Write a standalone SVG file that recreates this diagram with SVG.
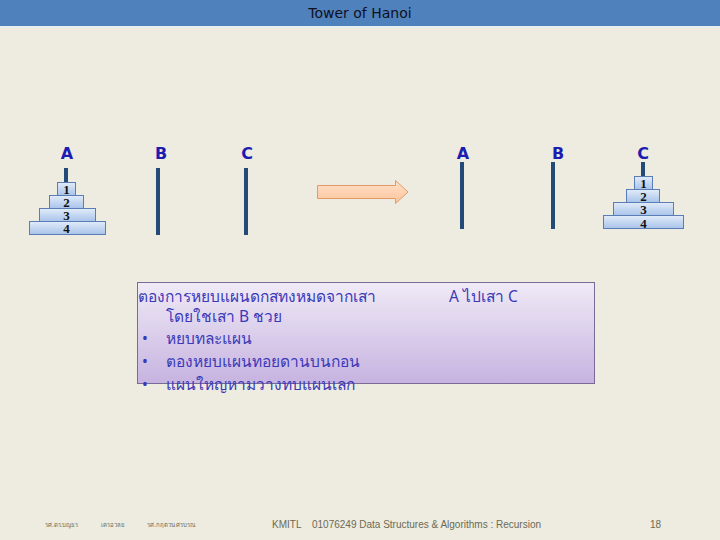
<svg xmlns="http://www.w3.org/2000/svg" width="720" height="540" viewBox="0 0 720 540">
<defs>
<linearGradient id="disk" x1="0" y1="0" x2="0" y2="1"><stop offset="0" stop-color="#E2ECF9"/><stop offset="1" stop-color="#A8C3EA"/></linearGradient>
<linearGradient id="box" x1="0" y1="0" x2="0" y2="1"><stop offset="0" stop-color="#F0EAF6"/><stop offset="1" stop-color="#C6B3E0"/></linearGradient>
<linearGradient id="arr" x1="0" y1="0" x2="0" y2="1"><stop offset="0" stop-color="#FFE0C8"/><stop offset="1" stop-color="#FFC49C"/></linearGradient>
</defs>
<style>
.lbl{font-family:"DejaVu Sans",sans-serif;font-weight:bold;font-size:16px;fill:#1C1CB0;text-anchor:middle}
.pole{fill:#234A78}
.dk{fill:url(#disk);stroke:#5B7DB5;stroke-width:1}
.num{font-family:"Liberation Serif",serif;font-weight:bold;font-size:13px;fill:#111;text-anchor:middle}
.th{font-family:"Noto Sans","DejaVu Sans",sans-serif;font-size:15.5px;fill:#3A3AB8}
.ft{font-family:"Liberation Sans",sans-serif;font-size:10px;fill:#6B6B55}
.fts{font-family:"Noto Sans","DejaVu Sans",sans-serif;font-size:6px;fill:#6B6B55}
</style>
<rect width="720" height="540" fill="#EEEBE1"/>
<rect width="720" height="26" fill="#4F81BD"/>
<rect y="26" width="720" height="2" fill="#E6EEEE"/>
<text x="360" y="18" font-family="DejaVu Sans,sans-serif" font-size="14" fill="#101020" text-anchor="middle">Tower of Hanoi</text>

<g id="left-A">
<text class="lbl" x="67" y="159">A</text>
<rect class="pole" x="64" y="168" width="4" height="15"/>
<rect class="dk" x="57.5" y="182.5" width="18" height="13"/>
<text class="num" x="66.5" y="194">1</text>
<rect class="dk" x="49.5" y="195.5" width="34" height="13"/>
<text class="num" x="66.5" y="207">2</text>
<rect class="dk" x="39.5" y="208.5" width="56" height="13"/>
<text class="num" x="66.5" y="220">3</text>
<rect class="dk" x="29.5" y="221.5" width="76" height="13"/>
<text class="num" x="66.5" y="233">4</text>
</g>
<g id="left-B">
<text class="lbl" x="161" y="159">B</text>
<rect class="pole" x="156" y="168" width="4" height="67"/>
</g>
<g id="left-C">
<text class="lbl" x="247" y="159">C</text>
<rect class="pole" x="244" y="168" width="4" height="67"/>
</g>

<g id="arrow">
<path d="M317.5,185.5 H395.5 V180.5 L408,192 L395.5,203.5 V198.5 H317.5 Z" fill="url(#arr)" stroke="#E29B66" stroke-width="1"/>
</g>

<g id="right-A">
<text class="lbl" x="463" y="159">A</text>
<rect class="pole" x="460" y="162" width="4" height="67"/>
</g>
<g id="right-B">
<text class="lbl" x="558" y="159">B</text>
<rect class="pole" x="551" y="162" width="4" height="67"/>
</g>
<g id="right-C">
<text class="lbl" x="643" y="159">C</text>
<rect class="pole" x="641" y="162" width="4" height="15"/>
<rect class="dk" x="634.5" y="176.5" width="18" height="13"/>
<text class="num" x="643.5" y="188">1</text>
<rect class="dk" x="626.5" y="189.5" width="33" height="13"/>
<text class="num" x="643.5" y="201">2</text>
<rect class="dk" x="613.5" y="202.5" width="60" height="13"/>
<text class="num" x="643.5" y="214">3</text>
<rect class="dk" x="603.5" y="215.5" width="80" height="13"/>
<text class="num" x="643.5" y="228">4</text>
</g>

<g id="textbox">
<rect x="137.5" y="282.5" width="457" height="101" fill="url(#box)" stroke="#7A6A98" stroke-width="1"/>
<text class="th" x="138" y="302">ตองการหยบแผนดกสทงหมดจากเสา</text>
<text class="th" x="449" y="302">A ไปเสา C</text>
<text class="th" x="166" y="322">โดยใชเสา   B ชวย</text>
<text class="th" x="142" y="344">•</text>
<text class="th" x="166" y="344">หยบทละแผน</text>
<text class="th" x="142" y="367">•</text>
<text class="th" x="166" y="367">ตองหยบแผนทอยดานบนกอน</text>
<text class="th" x="142" y="390">•</text>
<text class="th" x="166" y="390">แผนใหญหามวางทบแผนเลก</text>
</g>

<g id="footer">
<text class="fts" x="45" y="527">รศ.ดร.บญธร</text>
<text class="fts" x="101" y="527">เครอวลย</text>
<text class="fts" x="147" y="527">รศ.กฤตวน ศรบรณ</text>
<text class="ft" x="272" y="528">KMITL</text>
<text class="ft" x="312" y="528">01076249 Data Structures &amp; Algorithms : Recursion</text>
<text class="ft" x="650" y="528">18</text>
</g>
</svg>
